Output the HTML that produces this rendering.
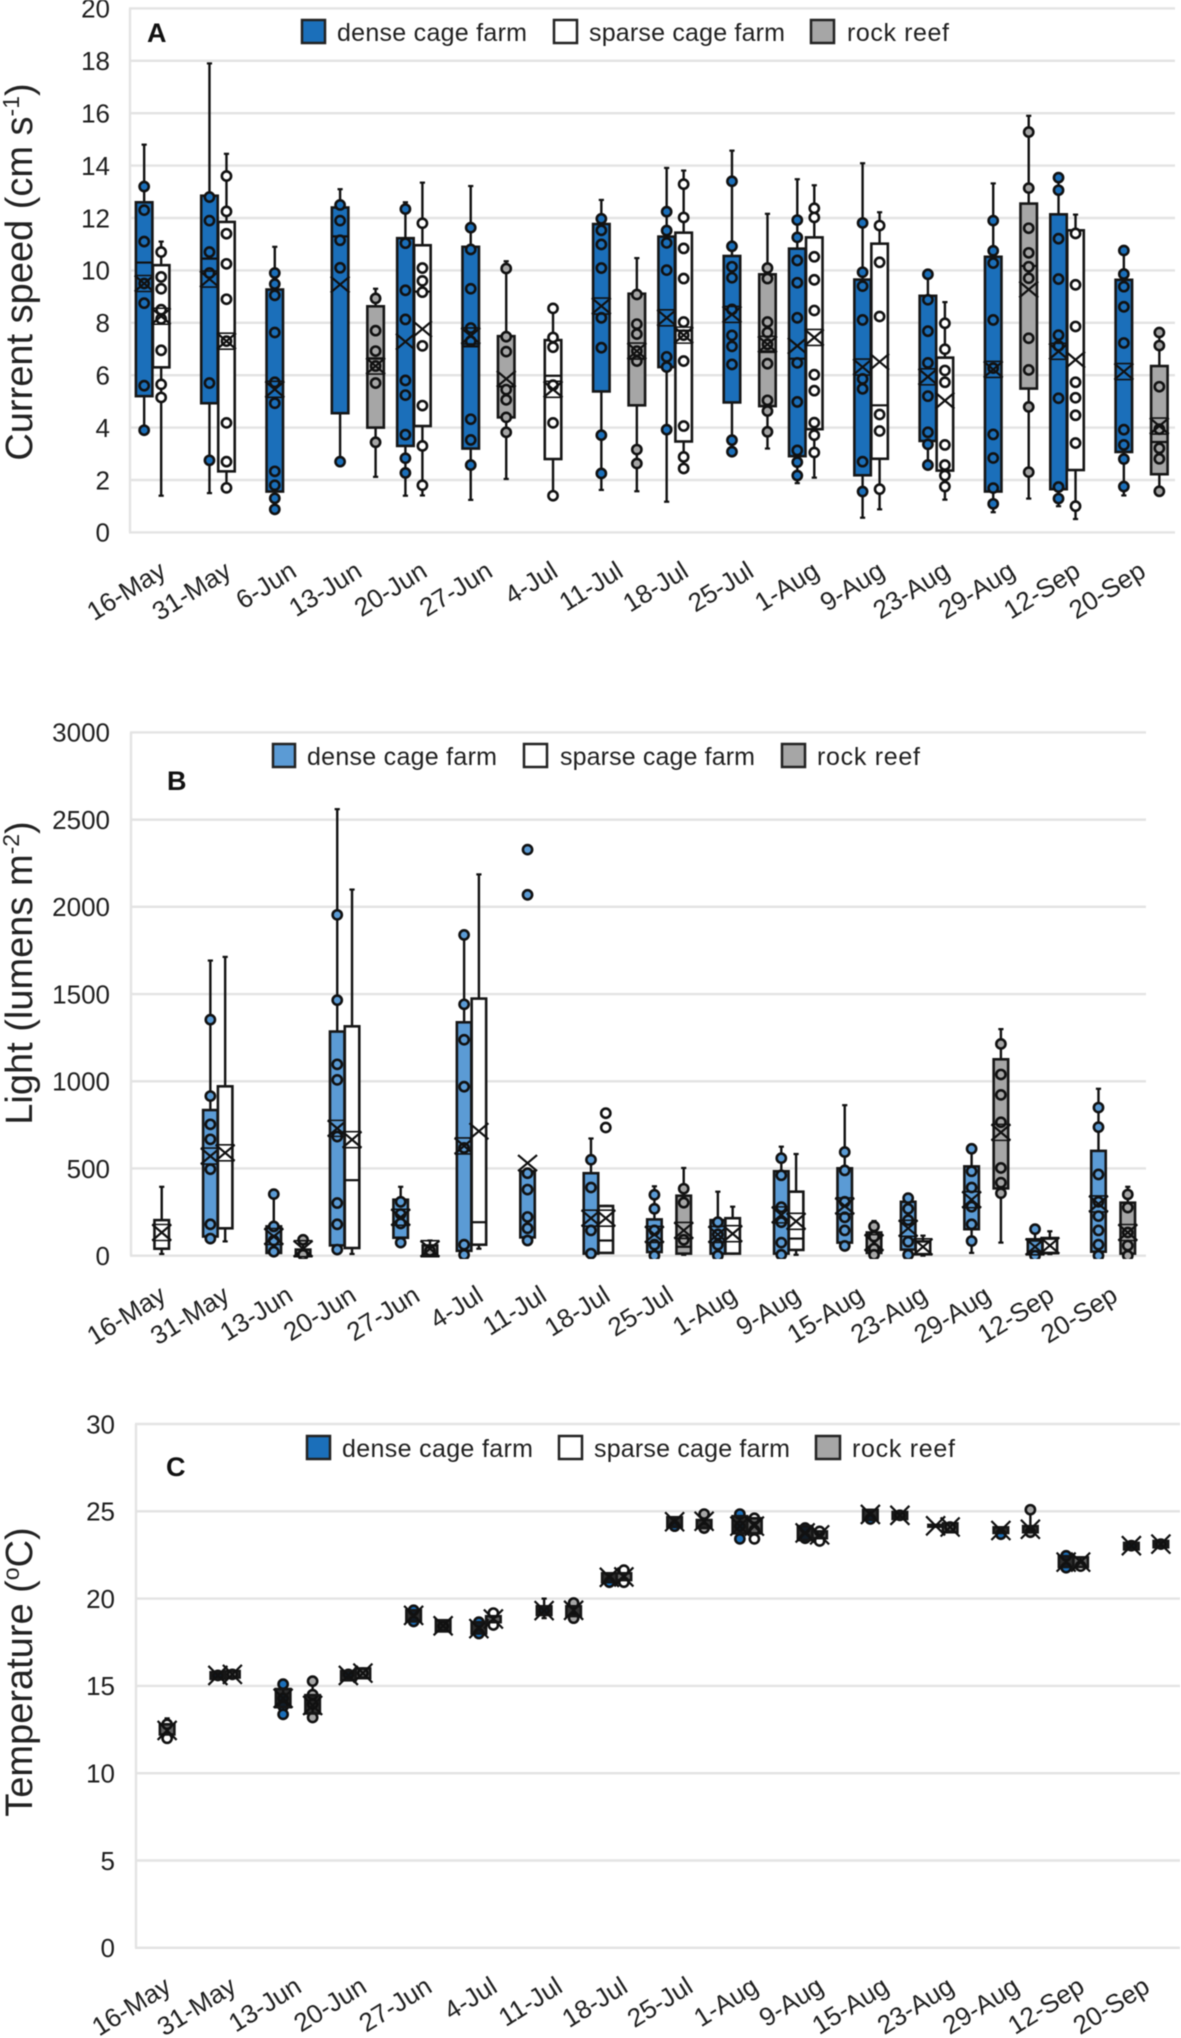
<!DOCTYPE html>
<html lang="en">
<head>
<meta charset="utf-8">
<title>Current speed, light and temperature by site</title>
<style>
html,body{margin:0;padding:0;background:#fff;}
svg{display:block;position:absolute;left:0;top:0;filter:blur(0.4px);}
text{font-family:"Liberation Sans",sans-serif;fill:#1f1f1f;}
.legend-text{font-size:25px;}
.panel-letter{font-size:27px;font-weight:bold;fill:#111;}
.axis-title{font-size:38px;fill:#222;}
.tick{font-size:26px;}
.swatch{stroke:#222;stroke-width:2.5;}
</style>
</head>
<body>
<svg id="figure" width="1181" height="2038" viewBox="0 0 1181 2038" xmlns="http://www.w3.org/2000/svg">
  <defs>
    <clipPath id="clip-b"><rect x="120" y="720" width="1040" height="539"/></clipPath>
  </defs>

  <g id="chart-a"></g>
  <g id="chart-b"></g>
  <g id="chart-c"></g>

  <text x="32" y="272" class="axis-title" text-anchor="middle" transform="rotate(-90 32 272)">Current speed (cm s<tspan dy="-13" font-size="23">-1</tspan><tspan dy="13">)</tspan></text>
  <text x="32" y="973" class="axis-title" text-anchor="middle" transform="rotate(-90 32 973)">Light (lumens m<tspan dy="-13" font-size="23">-2</tspan><tspan dy="13">)</tspan></text>
  <text x="32" y="1672" class="axis-title" text-anchor="middle" transform="rotate(-90 32 1672)">Temperature (<tspan dy="-13" font-size="23">o</tspan><tspan dy="13">C)</tspan></text>

  <g>
    <text x="147" y="42" class="panel-letter">A</text>
    <rect class="swatch" x="302" y="20" width="23" height="23" fill="#1b6fba"/>
    <text x="337" y="41" class="legend-text" textLength="190">dense cage farm</text>
    <rect class="swatch" x="554" y="20" width="23" height="23" fill="#ffffff"/>
    <text x="589" y="41" class="legend-text" textLength="196">sparse cage farm</text>
    <rect class="swatch" x="811" y="20" width="23" height="23" fill="#a6a6a6"/>
    <text x="847" y="41" class="legend-text" textLength="102">rock reef</text>
  </g>

  <g>
    <text x="167" y="790" class="panel-letter">B</text>
    <rect class="swatch" x="273" y="744" width="22" height="23" fill="#5b9bd5"/>
    <text x="307" y="765" class="legend-text" textLength="190">dense cage farm</text>
    <rect class="swatch" x="524" y="744" width="23" height="23" fill="#ffffff"/>
    <text x="560" y="765" class="legend-text" textLength="195">sparse cage farm</text>
    <rect class="swatch" x="782" y="744" width="23" height="23" fill="#a6a6a6"/>
    <text x="817" y="765" class="legend-text" textLength="103">rock reef</text>
  </g>

  <g>
    <text x="166" y="1476" class="panel-letter">C</text>
    <rect class="swatch" x="307" y="1436" width="23" height="23" fill="#1b6fba"/>
    <text x="342" y="1457" class="legend-text" textLength="191">dense cage farm</text>
    <rect class="swatch" x="559" y="1436" width="23" height="23" fill="#ffffff"/>
    <text x="594" y="1457" class="legend-text" textLength="196">sparse cage farm</text>
    <rect class="swatch" x="816" y="1436" width="24" height="23" fill="#a6a6a6"/>
    <text x="852" y="1457" class="legend-text" textLength="103">rock reef</text>
  </g>
</svg>

<script>
/* Each box row: [low whisker, q1, median, q3, high whisker, mean, [data points], mean-marker-has-bars] */

/* ---------- Panel A: current speed ---------- */
const categoriesA = ['16-May','31-May','6-Jun','13-Jun','20-Jun','27-Jun','4-Jul','11-Jul','18-Jul','25-Jul','1-Aug','9-Aug','23-Aug','29-Aug','12-Sep','20-Sep'];
const yTicksA = [0,2,4,6,8,10,12,14,16,18,20];
const denseA = [
  [3.9,5.2,10.3,12.6,14.8,9.5,[13.2,12.3,11.1,9.5,8.75,5.6,3.9],1],
  [1.5,4.93,10.45,12.85,17.9,9.67,[12.8,11.9,10.7,9.9,5.7,2.75],1],
  [0.88,1.56,null,9.27,10.9,5.46,[9.9,9.48,9.05,7.63,5.73,4.93,2.33,1.8,1.3,0.88],1],
  [2.7,4.55,11.3,12.4,13.1,9.46,[12.5,11.9,11.15,10.1,2.7],0],
  [1.4,3.3,null,11.23,12.6,7.28,[12.34,11.04,9.24,8.13,5.8,5.24,3.73,2.83,2.27],0],
  [1.24,3.2,7.1,10.9,13.22,7.5,[11.63,10.8,9.3,7.8,7.3,4.32,3.53,2.57],1],
  null,
  [1.62,5.38,null,11.77,12.69,8.64,[11.97,11.53,10.99,10.09,8.19,7.05,3.71,2.25],1],
  [1.17,6.31,null,11.29,13.91,8.19,[12.24,11.52,11.05,10.01,6.7,6.31,3.92],1],
  [3.08,4.96,null,10.55,14.57,8.32,[13.4,10.92,10.14,9.72,8.51,7.52,7.1,6.41,3.52,3.08],1],
  [1.88,2.91,6.63,10.83,13.48,7.12,[11.92,11.26,10.38,9.53,8.19,6.47,4.98,3.13,2.68,2.17],0],
  [0.56,2.18,null,9.65,14.09,6.31,[11.81,9.93,9.4,8.11,5.86,5.48,2.7,1.56],1],
  [2.57,3.49,null,9.03,9.85,5.94,[9.85,8.88,7.68,6.47,5.2,3.82,3.36,2.57],1],
  [0.77,1.56,null,10.52,13.32,6.22,[11.9,10.75,10.28,8.11,6.27,3.74,2.84,1.69,1.09],1],
  [1.0,1.65,null,12.14,13.54,6.91,[13.54,13.06,11.21,9.67,7.53,7.12,5.12,1.73,1.29],1],
  [1.41,3.07,null,9.64,10.76,6.14,[10.76,9.86,9.38,8.61,7.23,3.92,3.34,2.8,1.75],1]
];
const sparseA = [
  [1.4,6.3,null,10.2,11.1,8.25,[10.7,9.75,9.3,8.5,8.15,6.95,5.65,5.15],1],
  [1.7,2.33,null,11.85,14.45,7.3,[13.6,12.25,11.4,10.25,8.9,7.3,4.18,2.7,1.7],1],
  null,
  null,
  [1.41,4.06,9.19,10.96,13.35,7.76,[11.8,10.09,9.6,9.17,7.12,4.84,3.3,1.8],0],
  null,
  [1.4,2.8,5.98,7.34,8.55,5.46,[8.55,7.44,7.07,5.62,4.18,1.4],1],
  null,
  [2.44,3.47,7.7,11.44,13.81,7.53,[13.29,12.02,10.84,9.69,8.03,7.53,6.54,4.06,2.88,2.44],1],
  null,
  [2.09,3.94,null,11.26,13.25,7.44,[12.37,12.02,10.52,9.64,8.47,6.02,5.41,4.19,3.71,3.05],1],
  [0.88,2.81,4.85,11.02,12.22,6.51,[11.71,10.31,8.24,4.5,3.87,1.65],0],
  [1.25,2.36,null,6.67,8.79,5.03,[7.98,6.99,6.18,5.73,3.34,2.57,2.17,1.75],0],
  null,
  [0.51,2.38,null,11.53,12.13,6.59,[11.41,9.45,7.86,5.73,5.14,4.47,3.41,1.0],0],
  null
];
const rockA = [
  null,
  null,
  null,
  [2.12,4.0,6.63,8.63,9.3,6.35,[8.93,7.7,6.92,6.35,5.7,3.44],1],
  null,
  [2.04,4.39,5.57,7.49,10.35,5.86,[10.07,7.47,6.9,5.45,5.06,4.39,3.82],0],
  null,
  [1.57,4.85,6.63,9.11,10.47,6.92,[9.08,7.95,7.57,6.92,6.54,3.16,2.63],1],
  null,
  [3.2,4.82,6.91,9.85,12.16,7.18,[10.09,9.69,8.03,7.63,7.18,6.44,5.04,4.63,3.84],1],
  null,
  null,
  null,
  [1.29,5.49,10.17,12.55,15.9,9.27,[15.28,13.14,11.61,10.67,10.14,9.7,7.41,6.2,4.79,2.3],0],
  null,
  [1.57,2.22,3.45,6.35,7.63,4.06,[7.63,7.13,5.56,3.94,3.21,2.81,1.57],1]
];

/* ---------- Panel B: light ---------- */
const categoriesB = ['16-May','31-May','13-Jun','20-Jun','27-Jun','4-Jul','11-Jul','18-Jul','25-Jul','1-Aug','9-Aug','15-Aug','23-Aug','29-Aug','12-Sep','20-Sep'];
const yTicksB = [0,500,1000,1500,2000,2500,3000];
const denseB = [
  null,
  [98,110,null,835,1692,571,[1353,915,753,667,496,180,98],1],
  [5,16,null,168,353,110,[353,168,87,23],1],
  [35,59,null,1285,2560,730,[1954,1465,1097,1008,683,302,180,35],1],
  [75,103,null,321,395,220,[309,239,185,75],1],
  [5,28,null,1338,1839,629,[1839,1441,1238,969,618,63,5],1],
  [87,105,null,484,484,531,[2328,2069,473,379,222,157,87],0],
  [0,12,null,473,672,215,[550,391,145,12],1],
  [0,21,null,208,398,122,[349,269,145,63,0],1],
  [0,12,null,204,367,122,[192,122,63,0],1],
  [0,12,null,484,625,234,[559,461,278,192,75,5],1],
  [51,75,null,501,863,285,[594,489,309,220,145,56],1],
  [0,35,null,309,344,157,[330,269,204,80,5],1],
  [16,152,null,512,613,321,[613,484,391,281,180,84],1],
  [0,12,null,87,152,51,[152,0],1],
  [0,23,null,601,957,297,[849,737,466,309,227,145,63,0],1]
];
const sparseB = [
  [10,40,null,204,395,133,[],1],
  [82,157,null,971,1713,590,[],1],
  null,
  [10,44,433,1315,2099,665,[],1],
  null,
  [40,63,192,1474,2186,714,[],0],
  null,
  [16,16,87,285,285,215,[817,735],1],
  null,
  [12,12,null,215,281,126,[],1],
  [5,33,98,367,583,197,[],1],
  null,
  [0,9,null,82,115,51,[],1],
  null,
  [9,16,null,98,140,58,[],1],
  null
];
const rockB = [
  null,
  null,
  [0,5,null,35,91,40,[91,5],1],
  null,
  [0,5,null,59,87,40,[28],1],
  null,
  null,
  null,
  [5,12,51,344,503,145,[384,304,91],1],
  null,
  null,
  [5,16,null,133,199,75,[168,110,40,5],1],
  null,
  [75,386,null,1126,1299,707,[1214,1039,922,765,503,419,358],1],
  null,
  [0,12,null,304,395,133,[351,276,133,58,0],1]
];

/* ---------- Panel C: temperature ---------- */
const categoriesC = ['16-May','31-May','13-Jun','20-Jun','27-Jun','4-Jul','11-Jul','18-Jul','25-Jul','1-Aug','9-Aug','15-Aug','23-Aug','29-Aug','12-Sep','20-Sep'];
const yTicksC = [0,5,10,15,20,25,30];
const denseC = [
  null,
  [15.4,15.4,null,15.78,15.78,15.6,[15.6],0],
  [13.37,13.78,null,14.82,15.1,14.29,[15.1,14.29,13.83,13.37],0],
  [15.32,15.32,null,15.85,15.85,15.6,[15.66],0],
  [18.69,18.69,null,19.33,19.33,19.04,[19.33,18.69],0],
  [18.0,18.0,null,18.65,18.65,18.28,[18.65,18.0],0],
  [18.88,19.06,null,19.56,20.0,19.31,[19.31],0],
  [20.94,20.94,null,21.45,21.45,21.22,[20.94],0],
  [24.1,24.1,null,24.66,24.66,24.4,[24.15],0],
  [23.42,23.74,null,24.72,24.84,24.15,[24.84,24.15,23.42],0],
  [23.35,23.35,null,24.15,24.15,23.76,[24.04,23.46],0],
  [24.5,24.5,null,25.08,25.08,24.82,[24.56],0],
  [24.12,24.12,null,24.22,24.22,24.17,[],0],
  [23.76,23.76,null,24.08,24.08,23.9,[23.69],0],
  [21.81,21.81,null,22.43,22.43,22.09,[22.45,21.77],0],
  [22.82,22.82,null,23.19,23.19,23.03,[23.03],0]
];
const sparseC = [
  [11.77,12.22,null,12.8,13.14,12.45,[12.8,12.0],0],
  [15.48,15.48,null,15.85,15.85,15.66,[15.66],0],
  null,
  [15.44,15.44,null,16.0,16.0,15.73,[15.73],0],
  null,
  [18.65,18.65,null,18.99,18.99,18.83,[19.17,18.49],0],
  null,
  [21.06,21.06,null,21.45,21.63,21.24,[21.63,20.94],0],
  null,
  [23.74,23.74,null,24.6,24.6,24.15,[24.6,23.92,23.42],0],
  [23.46,23.46,null,23.85,23.85,23.65,[23.85,23.3],0],
  null,
  [23.8,23.8,null,24.31,24.31,24.1,[24.1],0],
  null,
  [21.81,21.81,null,22.36,22.36,22.09,[21.86],0],
  null
];
const rockC = [
  null,
  null,
  [13.19,13.42,null,14.47,15.27,13.88,[15.27,14.5,13.95,13.19],0],
  null,
  [18.12,18.12,null,18.76,18.76,18.44,[18.42],0],
  null,
  [18.88,19.0,null,19.56,19.75,19.33,[19.75,18.88],0],
  null,
  [24.04,24.04,null,24.5,24.84,24.43,[24.84,24.04],0],
  null,
  null,
  [24.56,24.56,null,24.96,24.96,24.77,[24.77],0],
  null,
  [23.8,23.8,null,24.15,25.09,23.97,[25.09,23.8],0],
  null,
  [22.94,22.94,null,23.3,23.3,23.12,[23.12],0]
];

const NS = 'http://www.w3.org/2000/svg';
const INK = '#111111';

function make(tag, parent, attrs) {
  const node = document.createElementNS(NS, tag);
  for (const key in attrs) node.setAttribute(key, attrs[key]);
  parent.appendChild(node);
  return node;
}

function drawChart(cfg) {
  const root = document.getElementById(cfg.id);
  const yScale = v => cfg.bottom - (v / cfg.yMax) * (cfg.bottom - cfg.top);
  const step = (cfg.right - cfg.left) / cfg.categories.length;
  const xScale = (i, offset) => cfg.left + step * (i + 0.5) + offset;

  const leftAxis = make('line', root, {x1: cfg.left, x2: cfg.left, y1: cfg.top, y2: cfg.bottom, stroke: '#e3e3e3', 'stroke-width': 2.4});
  
  

  cfg.ticks.forEach(t => {
    const y = yScale(t);
    const grid = make('line', root, {x1: cfg.left - 1, x2: cfg.right, y1: y, y2: y, stroke: '#e3e3e3', 'stroke-width': 2.4});
    
    
    const label = make('text', root, {x: cfg.tickX, y: y + 9.3, 'text-anchor': 'end', class: 'tick'});
    label.textContent = String(t);
    
    
  });

  cfg.categories.forEach((c, i) => {
    const ax = xScale(i, cfg.labelDx);
    const ay = cfg.bottom + cfg.labelDy;
    const label = make('text', root, {x: ax, y: ay, 'text-anchor': 'end', class: 'tick', transform: 'rotate(-32 ' + ax + ' ' + ay + ')'});
    label.textContent = c;
    
    
  });

  const marks = make('g', root, cfg.clip ? {'clip-path': 'url(#' + cfg.clip + ')'} : {});
  
  

  cfg.series.forEach(s => {
    s.rows.forEach((row, i) => {
      if (!row) return;
      const [low, q1, median, q3, high, mean, points, bars] = row;
      const x = xScale(i, s.offset);
      const group = make('g', marks, {});
      
      

      const whisker = make('line', group, {x1: x, x2: x, y1: yScale(high), y2: yScale(low), stroke: INK, 'stroke-width': 2.4});
      
      

      [high, low].forEach(v => {
        const cap = make('line', group, {x1: x - 2.6, x2: x + 2.6, y1: yScale(v), y2: yScale(v), stroke: INK, 'stroke-width': 2.2});
        
        
      });

      const drawPoints = () => points.forEach(p => {
        const dot = make('circle', group, {cx: x, cy: yScale(p), r: 4.6, fill: s.pointColor, stroke: INK, 'stroke-width': 2.6});
        
        
      });

      if (cfg.pointsUnderBox) drawPoints();

      const box = make('rect', group, {x: x - cfg.boxW / 2, y: yScale(q3), width: cfg.boxW, height: Math.max(0.5, yScale(q1) - yScale(q3)), fill: s.color, 'fill-opacity': s.boxOpacity === undefined ? 1 : s.boxOpacity, stroke: '#161616', 'stroke-width': 2.6});
      
      

      if (median !== null) {
        const medianLine = make('line', group, {x1: x - cfg.boxW / 2, x2: x + cfg.boxW / 2, y1: yScale(median), y2: yScale(median), stroke: INK, 'stroke-width': 2.2});
        
        
      }

      if (!cfg.pointsUnderBox) drawPoints();

      const my = yScale(mean);
      const hx = 9.5, hy = cfg.xHalfY;
      const cross = make('path', group, {d: 'M' + (x - hx) + ' ' + (my - hy) + 'L' + (x + hx) + ' ' + (my + hy) + 'M' + (x - hx) + ' ' + (my + hy) + 'L' + (x + hx) + ' ' + (my - hy), fill: 'none', stroke: INK, 'stroke-width': 2.2});
      
      

      if (bars) {
        [my - hy, my + hy].forEach(by => {
          const bar = make('line', group, {x1: x - hx, x2: x + hx, y1: by, y2: by, stroke: INK, 'stroke-width': 1.6});
          
          
        });
      }
    });
  });
}

const DENSE_A = '#1b6fba', DENSE_B = '#5b9bd5', SPARSE = '#ffffff', ROCK = '#a6a6a6', BAND = '#111111';

drawChart({
  id: 'chart-a', left: 130, right: 1175, top: 8.4, bottom: 532.4, yMax: 20,
  ticks: yTicksA, tickX: 110, categories: categoriesA, boxW: 16.5, xHalfY: 8,
  labelDx: 5, labelDy: 43,
  series: [
    {name: 'dense-cage-farm', color: DENSE_A, pointColor: DENSE_A, offset: -18.5, rows: denseA},
    {name: 'sparse-cage-farm', color: SPARSE, pointColor: SPARSE, offset: -1.5, rows: sparseA},
    {name: 'rock-reef', color: ROCK, pointColor: ROCK, offset: 17, rows: rockA}
  ]
});

drawChart({
  id: 'chart-b', left: 131, right: 1146, top: 732.4, bottom: 1255.7, yMax: 3000,
  ticks: yTicksB, tickX: 110, categories: categoriesB, boxW: 14.5, xHalfY: 8,
  labelDx: 5, labelDy: 44, clip: 'clip-b',
  series: [
    {name: 'dense-cage-farm', color: DENSE_B, pointColor: DENSE_B, offset: -15.8, rows: denseB},
    {name: 'sparse-cage-farm', color: SPARSE, pointColor: SPARSE, offset: -1, rows: sparseB},
    {name: 'rock-reef', color: ROCK, pointColor: ROCK, offset: 13.5, rows: rockB}
  ]
});

drawChart({
  id: 'chart-c', left: 136, right: 1180, top: 1424, bottom: 1947.8, yMax: 30,
  ticks: yTicksC, tickX: 115, categories: categoriesC, boxW: 14.5, xHalfY: 9.5,
  labelDx: 4, labelDy: 43, pointsUnderBox: true,
  series: [
    {name: 'dense-cage-farm', color: BAND, boxOpacity: 0.88, pointColor: DENSE_A, offset: -16, rows: denseC},
    {name: 'sparse-cage-farm', color: BAND, boxOpacity: 0.65, pointColor: SPARSE, offset: -1.5, rows: sparseC},
    {name: 'rock-reef', color: BAND, boxOpacity: 0.85, pointColor: ROCK, offset: 13.5, rows: rockC}
  ]
});
</script>
</body>
</html>
